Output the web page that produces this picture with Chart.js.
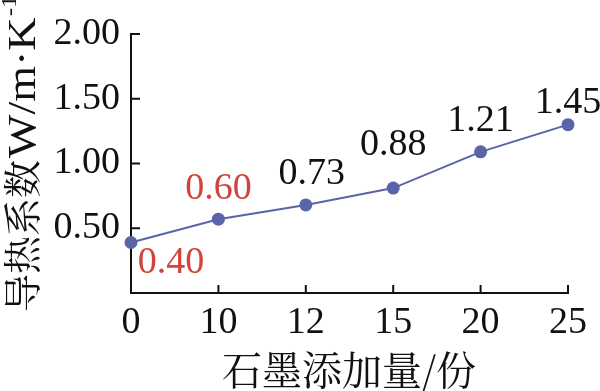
<!DOCTYPE html>
<html><head><meta charset="utf-8">
<script src="https://cdn.jsdelivr.net/npm/chart.js@4/dist/chart.umd.min.js"></script>
<style>html,body{margin:0;padding:0;background:#fff}#wrap{width:600px;height:391px}</style>
</head><body><div id="wrap"><canvas id="c" width="600" height="391"></canvas></div>
<script>
const categories = ['0', '10', '12', '15', '20', '25'];
const conductivity = [0.39, 0.57, 0.68, 0.81, 1.09, 1.30];
const valueLabels = ['0.40', '0.60', '0.73', '0.88', '1.21', '1.45'];
const yTicks = [0.5, 1.0, 1.5, 2.0];
const xTitle = '石墨添加量/份';
const yTitleCJK = '导热系数';
const yTitleUnit = 'W/m·K';
const yTitleSup = '-1';

const SERIF = '"Liberation Serif", "Times New Roman", serif';
const CJK = '"Noto Serif CJK SC", "Noto Sans CJK SC", serif';
const LINE = '#5a64a8';
const RED = '#d2433b';

// label style: colour and offset relative to its point (style only)
const labelStyle = [
  {color: RED, dx: 40, dy: 21},
  {color: RED, dx: 0, dy: -30},
  {color: '#111', dx: 6, dy: -31},
  {color: '#111', dx: 0, dy: -43},
  {color: '#111', dx: 0, dy: -31},
  {color: '#111', dx: 0, dy: -22}
];

const decor = {
  id: 'decor',
  afterDraw(chart) {
    const ctx = chart.ctx;
    const xs = chart.scales.x, ys = chart.scales.y;
    const area = chart.chartArea;
    ctx.save();
    // inward ticks
    ctx.strokeStyle = '#111';
    ctx.lineWidth = 2;
    ys.ticks.forEach((t, i) => {
      const y = ys.getPixelForTick(i);
      ctx.beginPath(); ctx.moveTo(area.left, y); ctx.lineTo(area.left + 9, y); ctx.stroke();
    });
    xs.ticks.forEach((t, i) => {
      if (i === 0) return;
      const x = xs.getPixelForTick(i);
      ctx.beginPath(); ctx.moveTo(x, area.bottom); ctx.lineTo(x, area.bottom - 8); ctx.stroke();
    });
    // value labels
    const meta = chart.getDatasetMeta(0);
    ctx.font = '38px ' + SERIF;
    ctx.textAlign = 'center';
    ctx.textBaseline = 'middle';
    meta.data.forEach((pt, i) => {
      const s = labelStyle[i];
      ctx.fillStyle = s.color;
      ctx.fillText(valueLabels[i], pt.x + s.dx, pt.y + s.dy);
    });
    // x title
    ctx.fillStyle = '#111';
    ctx.font = '40px ' + CJK;
    ctx.fillText(xTitle, 349, 370);
    // y title (rotated)
    ctx.translate(22, 312);
    ctx.rotate(-Math.PI / 2);
    ctx.textAlign = 'left';
    ctx.font = '38px ' + CJK;
    ctx.fillText(yTitleCJK, 0, 0);
    let x = ctx.measureText(yTitleCJK).width + 2;
    ctx.save();
    ctx.translate(x, 0);
    ctx.scale(1.15, 1);
    ctx.font = '40px ' + SERIF;
    ctx.fillText(yTitleUnit, 0, 2);
    const w = ctx.measureText(yTitleUnit).width;
    ctx.font = '22px ' + SERIF;
    ctx.fillText(yTitleSup, w + 1, -12);
    ctx.restore();
    ctx.restore();
  }
};

new Chart(document.getElementById('c'), {
  type: 'line',
  data: {
    labels: categories,
    datasets: [{
      data: conductivity,
      borderColor: LINE,
      backgroundColor: LINE,
      borderWidth: 2,
      pointRadius: 6.5,
      pointBackgroundColor: LINE,
      pointBorderWidth: 0,
      tension: 0,
      clip: false
    }]
  },
  options: {
    responsive: false,
    animation: false,
    devicePixelRatio: 1,
    layout: {padding: {top: 34, right: 32, left: 0, bottom: 0}},
    plugins: {legend: {display: false}, tooltip: {enabled: false}},
    scales: {
      x: {
        offset: false,
        grid: {display: false, drawTicks: false},
        border: {display: true, color: '#111', width: 2},
        ticks: {color: '#111', font: {family: SERIF, size: 38}, padding: 7, maxRotation: 0},
        afterFit(s) { s.height = 98; }
      },
      y: {
        min: 0, max: 2,
        afterBuildTicks(s) { s.ticks = yTicks.map(v => ({value: v})); },
        grid: {display: false, drawTicks: false},
        border: {display: true, color: '#111', width: 2},
        ticks: {color: '#111', font: {family: SERIF, size: 38}, padding: 11,
                callback: v => Number(v).toFixed(2)},
        afterFit(s) { s.width = 131; }
      }
    }
  },
  plugins: [decor]
});
</script>
</body></html>
